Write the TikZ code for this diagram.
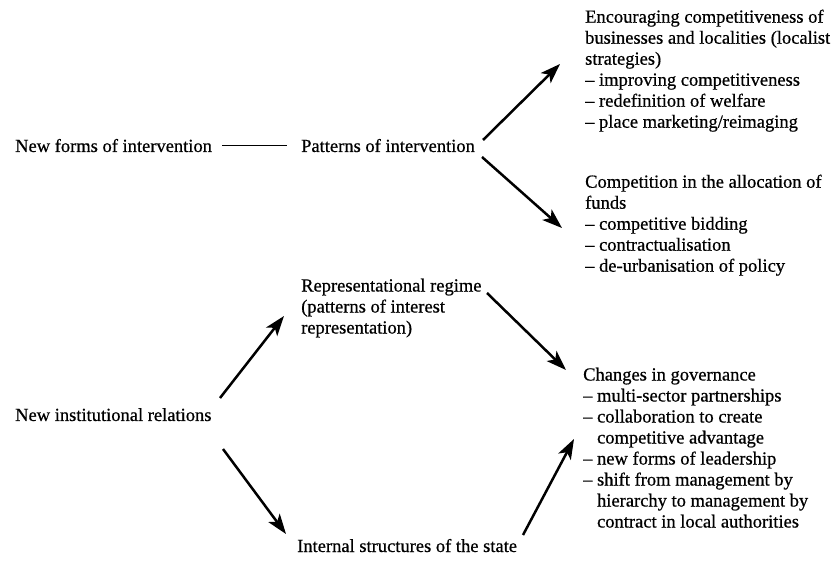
\documentclass[tikz,border=0pt]{standalone}
\usepackage{fontspec}
\setmainfont[FakeBold=0.6]{Liberation Serif}
\usetikzlibrary{arrows.meta}
\newcommand{\itemdash}{–\ }
\newcommand{\hang}{\hphantom{–\ }}
\begin{document}
\begin{tikzpicture}[x=1pt,y=-1pt,
  lbl/.style={inner sep=0pt, font=\fontsize{18.5}{21}\selectfont, align=left},
  arr/.style={line width=2.5pt, -{Stealth[length=20pt,width=14pt,inset=5pt]}},
  link/.style={line width=1.8pt}]
\useasboundingbox (0,0) rectangle (831,561);

% left and middle labels
\node[lbl, anchor=base west] (nfi) at (15,152) {New forms of intervention};
\node[lbl, anchor=base west] (poi) at (301,152) {Patterns of intervention};
\node[lbl, anchor=base west] (nir) at (15,421) {New institutional relations};
\node[lbl, anchor=north west] (rep) at (301,278.5)
  {Representational regime\\(patterns of interest\\representation)};
\node[lbl, anchor=base west] (iss) at (297,552) {Internal structures of the state};

% right-hand column
\node[lbl, anchor=north west] (enc) at (585,9.5)
  {Encouraging competitiveness of\\
   businesses and localities (localist\\
   strategies)\\
   \itemdash improving competitiveness\\
   \itemdash redefinition of welfare\\
   \itemdash place marketing/reimaging};
\node[lbl, anchor=north west] (comp) at (585,174.5)
  {Competition in the allocation of\\
   funds\\
   \itemdash competitive bidding\\
   \itemdash contractualisation\\
   \itemdash de-urbanisation of policy};
\node[lbl, anchor=north west] (chg) at (583,367.5)
  {Changes in governance\\
   \itemdash multi-sector partnerships\\
   \itemdash collaboration to create\\
   \hang competitive advantage\\
   \itemdash new forms of leadership\\
   \itemdash shift from management by\\
   \hang hierarchy to management by\\
   \hang contract in local authorities};

% arrow ends
\coordinate (a1s) at (483,140);  \coordinate (a1e) at (560,64);
\coordinate (a2s) at (482,157);  \coordinate (a2e) at (562,228);
\coordinate (a3s) at (220,398);  \coordinate (a3e) at (284,316);
\coordinate (a4s) at (223,449);  \coordinate (a4e) at (286,534);
\coordinate (a5s) at (487,293);  \coordinate (a5e) at (566,370);
\coordinate (a6s) at (523,535);  \coordinate (a6e) at (574,439);

% connectors
\draw[link, shorten <=10pt, shorten >=14pt] (nfi.east) -- (poi.west);
\draw[arr] (a1s) -- (a1e);
\draw[arr] (a2s) -- (a2e);
\draw[arr] (a3s) -- (a3e);
\draw[arr] (a4s) -- (a4e);
\draw[arr] (a5s) -- (a5e);
\draw[arr] (a6s) -- (a6e);
\end{tikzpicture}
\end{document}
